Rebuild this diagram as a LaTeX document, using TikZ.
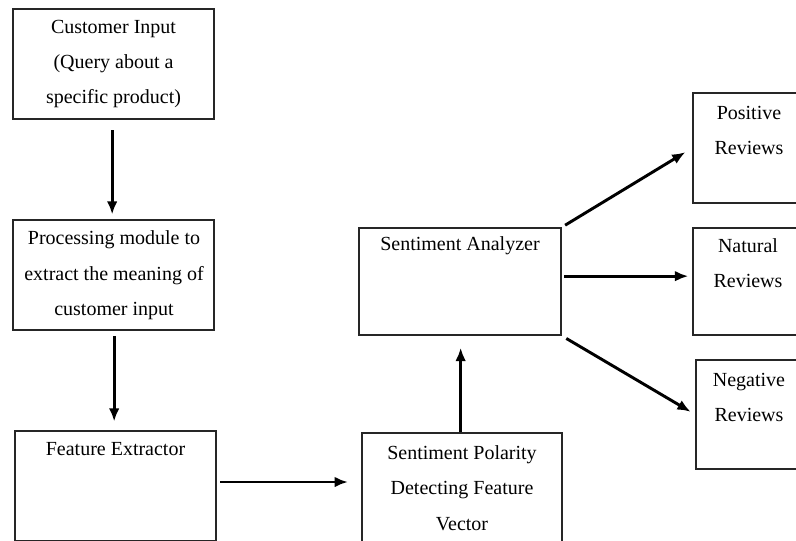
\documentclass[tikz,border=0pt]{standalone}
\usepackage{fontspec}
\setmainfont{Liberation Serif}
\usetikzlibrary{arrows.meta}
\begin{document}
\begin{tikzpicture}[x=0.75pt,y=-0.75pt,
  box/.style={draw=black!85, line width=1.1pt, inner sep=0pt, minimum width=150.75pt, minimum height=82.5pt},
  lbl/.style={align=center, font=\fontsize{15}{26.5}\selectfont, inner sep=0pt},
  arr/.style={-{Latex[length=10pt,width=8pt]}, line width=2.2pt}]
\useasboundingbox (0,0) rectangle (796,540);
\clip (0,0) rectangle (796,540);
% boxes
\node[box] (b1) at (113.5,64) {};
\node[box] (b2) at (113.5,275) {};
\node[box] (b3) at (115.5,486) {};
\node[box, minimum width=150pt] (b4) at (462,488) {};
\node[box, minimum width=151.5pt, minimum height=80.25pt] (b5) at (460,281.5) {};
\node[box, minimum width=82.5pt] (pos) at (748,148) {};
\node[box, minimum width=82.5pt, minimum height=80.25pt] (nat) at (748,281.5) {};
\node[box, minimum width=82.5pt, minimum height=81.75pt] (neg) at (751,414.5) {};
% texts
\node[lbl] (t1) at (113.5,64) {Customer Input\\(Query about a\\specific product)};
\node[lbl] (t2) at (114,275.5) {Processing module to\\extract the meaning of\\customer input};
\node[lbl] (t3) at (115.5,449) {Feature Extractor};
\node[lbl] (t4) at (462,488) {Sentiment Polarity\\Detecting Feature\\Vector};
\node[lbl] (t5) at (460,246) {Sentiment Analyzer};
\node[lbl] (t6) at (749,130.5) {Positive\\Reviews};
\node[lbl] (t7) at (748,263) {Natural\\Reviews};
\node[lbl] (t8) at (749,397.5) {Negative\\Reviews};
% arrows
\draw[arr, shorten <=8pt, shorten >=3.5pt] ([xshift=-1pt]b1.south) -- ([xshift=-1pt]b1.south |- b2.north);
\draw[arr, shorten <=4pt, shorten >=6.5pt] ([xshift=0.5pt]b2.south) -- ([xshift=0.5pt]b2.south |- b3.north);
\draw[arr, shorten <=2.5pt, shorten >=10pt] ([yshift=3pt]b3.east) -- ([yshift=3pt]b3.east -| b4.west);
\draw[arr, shorten >=9pt] ([xshift=-1pt]b4.north) -- ([xshift=-1pt]b4.north |- b5.south);
\draw[arr, shorten <=3pt, shorten >=6pt] (b5.north east) -- (pos.west);
\draw[arr, shorten <=2pt, shorten >=3pt] ([yshift=4pt]b5.east) -- ([yshift=4pt]b5.east -| nat.west);
\draw[arr, shorten <=4pt, shorten >=4pt] (b5.south east) -- (neg.west);
\end{tikzpicture}
\end{document}
